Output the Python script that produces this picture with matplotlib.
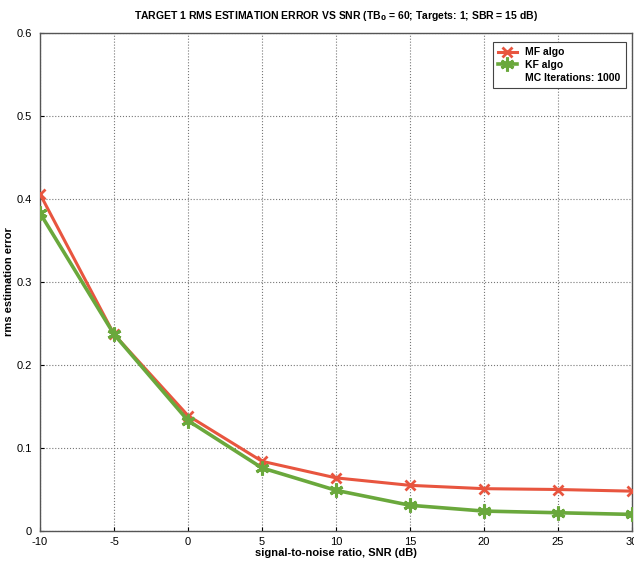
import numpy as np
import matplotlib
matplotlib.use("Agg")
import matplotlib.pyplot as plt
from matplotlib.lines import Line2D

snr = [-10, -5, 0, 5, 10, 15, 20, 25, 30]
mf_err = [0.406, 0.237, 0.139, 0.084, 0.064, 0.055, 0.051, 0.050, 0.048]
kf_err = [0.383, 0.237, 0.133, 0.076, 0.049, 0.031, 0.024, 0.022, 0.020]
mc_iters = 1000

plt.rcParams["font.family"] = ["Liberation Sans", "DejaVu Sans"]
plt.rcParams["axes.unicode_minus"] = False

red = "#e8553f"
green = "#6aa83c"

fig = plt.figure(figsize=(6.34, 5.61), dpi=100)
ax = fig.add_axes([40 / 634, 30 / 561, 592 / 634, 498 / 561])

ax.plot(snr, mf_err, color=red, lw=2.2, marker="x", ms=7, mew=2.0,
        label="MF algo", zorder=3)
ax.plot(snr, kf_err, color=green, lw=2.6, marker=(6, 2, 0), ms=10, mew=2.2,
        label="KF algo", zorder=3)

ax.set_xlim(-10, 30)
ax.set_ylim(0, 0.6)
ax.set_xticks(np.arange(-10, 31, 5))
ax.set_yticks(np.arange(0, 0.61, 0.1))
ax.set_yticklabels(["0", "0.1", "0.2", "0.3", "0.4", "0.5", "0.6"])
ax.tick_params(direction="in", labelsize=8, length=3)
ax.tick_params(axis="y", pad=6)
ax.tick_params(axis="x", pad=4)
ax.grid(True, color="#777777", ls=":", lw=0.8)
for s in ax.spines.values():
    s.set_color("#555555")
    s.set_linewidth(1.0)

ax.set_xlabel("signal-to-noise ratio, SNR (dB)", fontsize=8, fontweight="bold",
              labelpad=1)
ax.set_ylabel("rms estimation error", fontsize=8, fontweight="bold", labelpad=2)
ax.set_title("TARGET 1 RMS ESTIMATION ERROR VS SNR (TB$_\\mathbf{0}$ = 60; "
             "Targets: 1; SBR = 15 dB)", fontsize=7.5, fontweight="bold", pad=10)

handles, labels = ax.get_legend_handles_labels()
handles.append(Line2D([], [], color="none"))
labels.append(f"MC Iterations: {mc_iters}")
leg = ax.legend(handles, labels, loc="upper right",
                prop={"weight": "bold", "size": 7.5}, frameon=True,
                fancybox=False, edgecolor="#444444", framealpha=1,
                handlelength=1.8, borderpad=0.5, labelspacing=0.25,
                bbox_to_anchor=(0.998, 0.992))
leg.get_frame().set_linewidth(0.8)

fig.savefig("out.png", dpi=100)
